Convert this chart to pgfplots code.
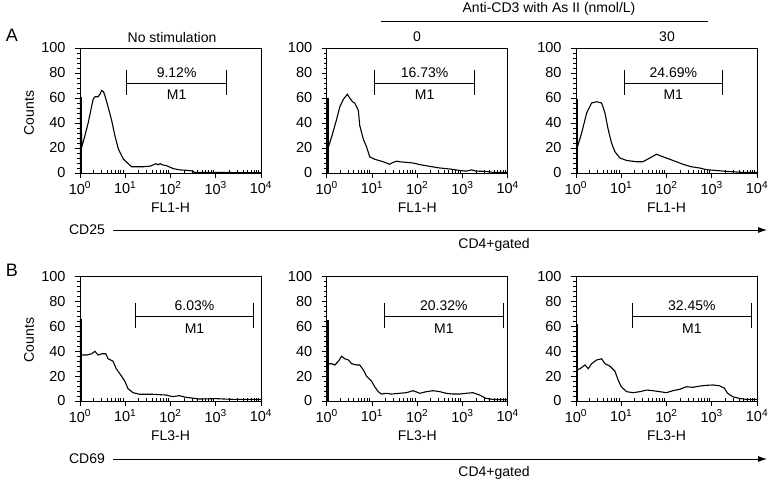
\documentclass[border=0pt]{standalone}
\usepackage{fontspec}
\setmainfont{Liberation Sans}
\usepackage{pgfplots}
\pgfplotsset{compat=1.18}
\usetikzlibrary{arrows.meta}

\newcommand{\fs}{\fontsize{14}{16}\selectfont}
\newcommand{\ft}{\fontsize{14.5}{16}\selectfont}

\pgfplotsset{
  flow/.style={
    scale only axis, width=181pt, height=125pt,
    xmin=0, xmax=4, ymin=0, ymax=100,
    xtick={0,1,2,3,4},
    xticklabels={10\textsuperscript{0},10\textsuperscript{1},10\textsuperscript{2},10\textsuperscript{3},10\textsuperscript{4}},
    minor xtick={0.301,0.477,0.602,0.699,0.778,0.845,0.903,0.954,
                 1.301,1.477,1.602,1.699,1.778,1.845,1.903,1.954,
                 2.301,2.477,2.602,2.699,2.778,2.845,2.903,2.954,
                 3.301,3.477,3.602,3.699,3.778,3.845,3.903,3.954},
    ytick={0,20,40,60,80,100}, minor y tick num=4,
    xtick pos=bottom, ytick pos=left,
    tick align=outside,
    major tick length=5pt, minor tick length=3pt,
    minor x tick style={yshift=3pt},
    every tick/.style={black, line width=0.9pt},
    tick label style={font=\ft},
    xticklabel style={inner sep=0.5pt},
    xticklabel shift=3pt,
    yticklabel shift=6pt,
    /pgf/number format/assume math mode=true,
    label style={font=\fs},
    xlabel style={at={(axis description cs:0.5,0)}, anchor=center, yshift=-35pt, inner sep=0.5pt},
    axis line style={line width=0.9pt},
  },
  hist/.style={black, line width=1.1pt, no marks},
  bar/.style={black, line width=3pt, no marks},
  gate/.style={black, line width=0.9pt, mark=|, mark size=12.5pt, mark options={line width=0.9pt}},
}

\begin{document}
\begin{tikzpicture}[font=\fs]
\useasboundingbox (0,0) rectangle (771pt,483pt);

% ---------------- Row A ----------------
\begin{axis}[flow, at={(80pt,310pt)}, anchor=south west, xlabel={FL1-H}]
\addplot[bar] coordinates {(0.02,0) (0.02,61)};
\addplot[hist] coordinates {(0.012,61)(0.04,21)(0.11,30)(0.18,40)(0.29,59)(0.33,61)(0.40,61)(0.44,63)(0.48,66)(0.52,65)(0.55,62)(0.62,53)(0.70,42)(0.77,30)(0.85,19)(0.96,11)(1.05,8)(1.14,5)(1.4,5)(1.55,5.5)(1.62,6.5)(1.68,7.5)(1.73,6.5)(1.77,7.5)(1.82,6.5)(1.9,6)(2.0,4.5)(2.06,3.5)(2.2,2.5)(2.4,2)(2.5,1.5)(2.52,0.5)(3,0.5)(3.5,0.3)(4,0.3)};
\addplot[gate] coordinates {(1.03,72) (3.24,72)};
\node at (axis cs:2.135,80) {9.12\%};
\node at (axis cs:2.135,62.5) {M1};
\end{axis}

\begin{axis}[flow, at={(326.7pt,310pt)}, anchor=south west, xlabel={FL1-H}]
\addplot[bar] coordinates {(0.02,0) (0.02,60)};
\addplot[hist] coordinates {(0.012,60)(0.04,21)(0.11,29)(0.22,43)(0.29,53)(0.37,59)(0.455,63)(0.51,60)(0.57,57)(0.62,56)(0.70,50)(0.73,38)(0.81,27)(0.88,21)(0.95,13)(1.06,11)(1.25,9)(1.39,7)(1.47,8.5)(1.55,9.5)(1.61,9)(1.76,8.5)(1.91,8)(2.06,6.7)(2.28,5.3)(2.5,4)(2.72,3.2)(2.94,2)(3.08,1.5)(3.2,2.5)(3.3,1.5)(3.52,1.3)(3.67,0.5)(4,0.5)};
\addplot[gate] coordinates {(1.06,72) (3.27,72)};
\node at (axis cs:2.165,80) {16.73\%};
\node at (axis cs:2.165,62.5) {M1};
\end{axis}

\begin{axis}[flow, at={(576pt,310pt)}, anchor=south west, xlabel={FL1-H}]
\addplot[bar] coordinates {(0.02,0) (0.02,59)};
\addplot[hist] coordinates {(0.012,59)(0.015,19)(0.125,32)(0.235,48)(0.345,56)(0.455,57)(0.565,56)(0.64,48)(0.71,35)(0.785,24)(0.86,17)(0.97,12)(1.12,10)(1.34,9)(1.48,9)(1.63,12)(1.78,15)(1.85,14)(1.92,13)(2.07,11)(2.22,9)(2.36,7)(2.55,5)(2.73,4)(2.88,2.7)(3.1,2)(3.32,1.3)(3.68,0.5)(4,0.5)};
\addplot[gate] coordinates {(1.06,72) (3.24,72)};
\node at (axis cs:2.15,80) {24.69\%};
\node at (axis cs:2.15,62.5) {M1};
\end{axis}

% ---------------- Row B ----------------
\begin{axis}[flow, height=124.3pt, at={(80pt,82pt)}, anchor=south west, xlabel={FL3-H}]
\addplot[bar] coordinates {(0.02,0) (0.02,66)};
\addplot[hist] coordinates {(0.012,37)(0.04,37)(0.15,37)(0.26,38)(0.33,40)(0.40,37)(0.48,38)(0.57,38)(0.62,34)(0.73,32)(0.80,26)(0.88,22)(0.99,16)(1.06,10)(1.17,6.7)(1.32,5.4)(1.61,5.4)(1.9,4.8)(2.05,3.5)(2.19,4.3)(2.34,3)(2.63,1.6)(3.0,1.9)(3.37,1.3)(4,1.3)};
\addplot[gate] coordinates {(1.22,68.4) (3.84,68.4)};
\node at (axis cs:2.53,76.5) {6.03\%};
\node at (axis cs:2.53,58.5) {M1};
\end{axis}

\begin{axis}[flow, height=124.3pt, at={(326.7pt,82pt)}, anchor=south west, xlabel={FL3-H}]
\addplot[bar] coordinates {(0.02,0) (0.02,65)};
\addplot[hist] coordinates {(0.012,30)(0.04,30)(0.11,30)(0.18,29)(0.26,32)(0.33,36)(0.40,34)(0.48,33)(0.55,30)(0.66,29)(0.73,29)(0.81,25)(0.88,20)(0.99,16)(1.06,11.5)(1.14,7.5)(1.21,5.6)(1.32,6.2)(1.43,5.6)(1.61,6.2)(1.76,6.7)(1.91,8.3)(2.06,6.2)(2.20,7.5)(2.35,8.3)(2.50,7.5)(2.64,6.2)(2.79,5.6)(2.94,5.6)(3.08,6.2)(3.23,6.7)(3.38,4.8)(3.52,2.1)(3.67,1.3)(4,1)};
\addplot[gate] coordinates {(1.27,68.4) (3.91,68.4)};
\node at (axis cs:2.59,76.5) {20.32\%};
\node at (axis cs:2.59,58.5) {M1};
\end{axis}

\begin{axis}[flow, height=124.3pt, at={(576pt,82pt)}, anchor=south west, xlabel={FL3-H}]
\addplot[bar] coordinates {(0.02,0) (0.02,62)};
\addplot[hist] coordinates {(0.012,25)(0.015,25)(0.09,26)(0.20,29)(0.27,26)(0.345,30)(0.455,33)(0.565,34)(0.64,30)(0.75,28)(0.86,24)(0.93,17)(1.0,11.5)(1.12,7.5)(1.26,6.7)(1.41,7.5)(1.56,8.8)(1.70,8.3)(1.85,7.5)(2.0,6.7)(2.14,8.3)(2.29,9.4)(2.44,11.5)(2.58,11)(2.73,12)(2.88,12.6)(3.02,12.9)(3.17,12.3)(3.28,10.2)(3.35,6.2)(3.46,3.5)(3.61,2.1)(3.76,1.3)(4.0,1.3)};
\addplot[gate] coordinates {(1.24,68.4) (3.88,68.4)};
\node at (axis cs:2.56,76.5) {32.45\%};
\node at (axis cs:2.56,58.5) {M1};
\end{axis}

% ---------------- Annotations ----------------
\node[font=\fontsize{18}{20}\selectfont] at (12pt,448pt) {A};
\node[font=\fontsize{18}{20}\selectfont] at (12pt,213pt) {B};
\node[rotate=90] at (29pt,370pt) {Counts};
\node[rotate=90] at (29pt,143pt) {Counts};
\node at (172pt,446pt) {No stimulation};
\node at (417pt,446pt) {0};
\node at (667pt,446pt) {30};
\node at (549pt,474pt) {Anti-CD3 with As II (nmol/L)};
\draw[line width=0.8pt] (381pt,462pt) -- (708pt,462pt);
\node at (87pt,253pt) {CD25};
\draw[line width=0.8pt, -{Latex[length=9pt,width=6pt]}] (113pt,253pt) -- (767pt,253pt);
\node at (494pt,238pt) {CD4+gated};
\node at (87pt,24pt) {CD69};
\draw[line width=0.8pt, -{Latex[length=9pt,width=6pt]}] (113pt,24pt) -- (767pt,24pt);
\node at (494pt,10pt) {CD4+gated};
\end{tikzpicture}
\end{document}
